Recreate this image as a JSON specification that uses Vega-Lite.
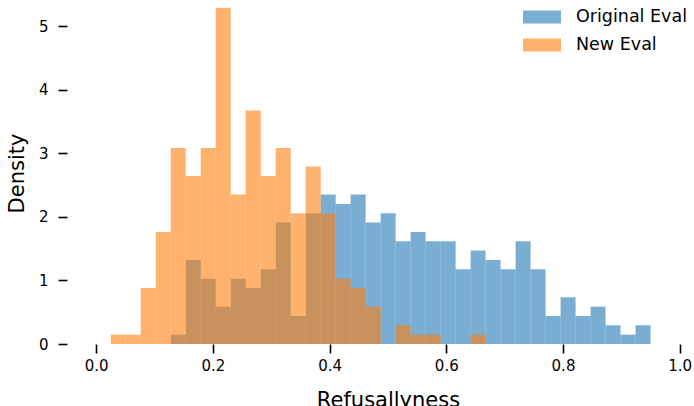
{
  "$schema": "https://vega.github.io/schema/vega-lite/v6.json",
  "width": 627,
  "height": 344,
  "autosize": "none",
  "padding": {"left": 67, "top": 0, "right": 0, "bottom": 62},
  "background": "white",
  "config": {
    "view": {"stroke": null},
    "font": "DejaVu Sans",
    "axis": {"grid": false, "domain": false, "tickColor": "black", "tickWidth": 1.6, "tickSize": 9, "labelColor": "black", "titleColor": "black", "labelFont": "DejaVu Sans", "titleFont": "DejaVu Sans", "titleFontWeight": "normal"}
  },
  "data": {
    "values": [
      {"series": "Original Eval", "start": 0.12778, "end": 0.15347, "density": 0.147},
      {"series": "Original Eval", "start": 0.15347, "end": 0.17917, "density": 1.322},
      {"series": "Original Eval", "start": 0.17917, "end": 0.20486, "density": 1.028},
      {"series": "Original Eval", "start": 0.20486, "end": 0.23056, "density": 0.587},
      {"series": "Original Eval", "start": 0.23056, "end": 0.25625, "density": 1.028},
      {"series": "Original Eval", "start": 0.25625, "end": 0.28194, "density": 0.881},
      {"series": "Original Eval", "start": 0.28194, "end": 0.30764, "density": 1.175},
      {"series": "Original Eval", "start": 0.30764, "end": 0.33333, "density": 1.909},
      {"series": "Original Eval", "start": 0.33333, "end": 0.35903, "density": 0.441},
      {"series": "Original Eval", "start": 0.35903, "end": 0.38472, "density": 2.056},
      {"series": "Original Eval", "start": 0.38472, "end": 0.41042, "density": 2.350},
      {"series": "Original Eval", "start": 0.41042, "end": 0.43611, "density": 2.203},
      {"series": "Original Eval", "start": 0.43611, "end": 0.46181, "density": 2.350},
      {"series": "Original Eval", "start": 0.46181, "end": 0.48750, "density": 1.909},
      {"series": "Original Eval", "start": 0.48750, "end": 0.51319, "density": 2.056},
      {"series": "Original Eval", "start": 0.51319, "end": 0.53889, "density": 1.616},
      {"series": "Original Eval", "start": 0.53889, "end": 0.56458, "density": 1.762},
      {"series": "Original Eval", "start": 0.56458, "end": 0.59028, "density": 1.616},
      {"series": "Original Eval", "start": 0.59028, "end": 0.61597, "density": 1.616},
      {"series": "Original Eval", "start": 0.61597, "end": 0.64167, "density": 1.175},
      {"series": "Original Eval", "start": 0.64167, "end": 0.66736, "density": 1.469},
      {"series": "Original Eval", "start": 0.66736, "end": 0.69306, "density": 1.322},
      {"series": "Original Eval", "start": 0.69306, "end": 0.71875, "density": 1.175},
      {"series": "Original Eval", "start": 0.71875, "end": 0.74444, "density": 1.616},
      {"series": "Original Eval", "start": 0.74444, "end": 0.77014, "density": 1.175},
      {"series": "Original Eval", "start": 0.77014, "end": 0.79583, "density": 0.441},
      {"series": "Original Eval", "start": 0.79583, "end": 0.82153, "density": 0.734},
      {"series": "Original Eval", "start": 0.82153, "end": 0.84722, "density": 0.441},
      {"series": "Original Eval", "start": 0.84722, "end": 0.87292, "density": 0.587},
      {"series": "Original Eval", "start": 0.87292, "end": 0.89861, "density": 0.294},
      {"series": "Original Eval", "start": 0.89861, "end": 0.92431, "density": 0.147},
      {"series": "Original Eval", "start": 0.92431, "end": 0.95000, "density": 0.294},
      {"series": "New Eval", "start": 0.02500, "end": 0.05069, "density": 0.147},
      {"series": "New Eval", "start": 0.05069, "end": 0.07639, "density": 0.147},
      {"series": "New Eval", "start": 0.07639, "end": 0.10208, "density": 0.881},
      {"series": "New Eval", "start": 0.10208, "end": 0.12778, "density": 1.762},
      {"series": "New Eval", "start": 0.12778, "end": 0.15347, "density": 3.084},
      {"series": "New Eval", "start": 0.15347, "end": 0.17917, "density": 2.644},
      {"series": "New Eval", "start": 0.17917, "end": 0.20486, "density": 3.084},
      {"series": "New Eval", "start": 0.20486, "end": 0.23056, "density": 5.287},
      {"series": "New Eval", "start": 0.23056, "end": 0.25625, "density": 2.350},
      {"series": "New Eval", "start": 0.25625, "end": 0.28194, "density": 3.672},
      {"series": "New Eval", "start": 0.28194, "end": 0.30764, "density": 2.644},
      {"series": "New Eval", "start": 0.30764, "end": 0.33333, "density": 3.084},
      {"series": "New Eval", "start": 0.33333, "end": 0.35903, "density": 2.056},
      {"series": "New Eval", "start": 0.35903, "end": 0.38472, "density": 2.791},
      {"series": "New Eval", "start": 0.38472, "end": 0.41042, "density": 2.056},
      {"series": "New Eval", "start": 0.41042, "end": 0.43611, "density": 1.028},
      {"series": "New Eval", "start": 0.43611, "end": 0.46181, "density": 0.881},
      {"series": "New Eval", "start": 0.46181, "end": 0.48750, "density": 0.587},
      {"series": "New Eval", "start": 0.51319, "end": 0.53889, "density": 0.294},
      {"series": "New Eval", "start": 0.53889, "end": 0.56458, "density": 0.147},
      {"series": "New Eval", "start": 0.56458, "end": 0.59028, "density": 0.147},
      {"series": "New Eval", "start": 0.64167, "end": 0.66736, "density": 0.147}
    ]
  },
  "mark": {"type": "bar", "opacity": 0.6, "stroke": null, "strokeWidth": 0},
  "encoding": {
    "x": {
      "field": "start", "type": "quantitative",
      "scale": {"domain": [-0.05, 1.0245], "nice": false, "zero": false},
      "axis": {"values": [0, 0.2, 0.4, 0.6, 0.8, 1.0], "format": ".1f", "labelFontSize": 15, "labelPadding": 5, "title": "Refusallyness", "titleFontSize": 21, "titleX": 321, "titleY": 62, "titleBaseline": "alphabetic", "titleAlign": "center", "labelFlush": false}
    },
    "x2": {"field": "end"},
    "y": {
      "field": "density", "type": "quantitative", "stack": null,
      "scale": {"domain": [0, 5.41], "nice": false},
      "axis": {"values": [0, 1, 2, 3, 4, 5], "format": "d", "labelFontSize": 15, "labelPadding": 10, "title": "Density", "titleFontSize": 21, "titleX": -50, "titleY": 173, "titleAngle": 270, "titleAlign": "center", "titleBaseline": "middle"}
    },
    "y2": {"datum": 0},
    "color": {
      "field": "series", "type": "nominal",
      "scale": {"domain": ["Original Eval", "New Eval"], "range": ["#1f77b4", "#ff7f0e"]},
      "legend": {"title": null, "orient": "none", "legendX": 456, "legendY": -2, "padding": 0, "symbolType": "M-1,-0.342H1V0.342H-1Z", "symbolSize": 1444, "symbolOpacity": 0.6, "symbolStrokeWidth": 0, "labelFontSize": 17.5, "labelColor": "black", "labelOffset": 15, "rowPadding": -1}
    }
  }
}
